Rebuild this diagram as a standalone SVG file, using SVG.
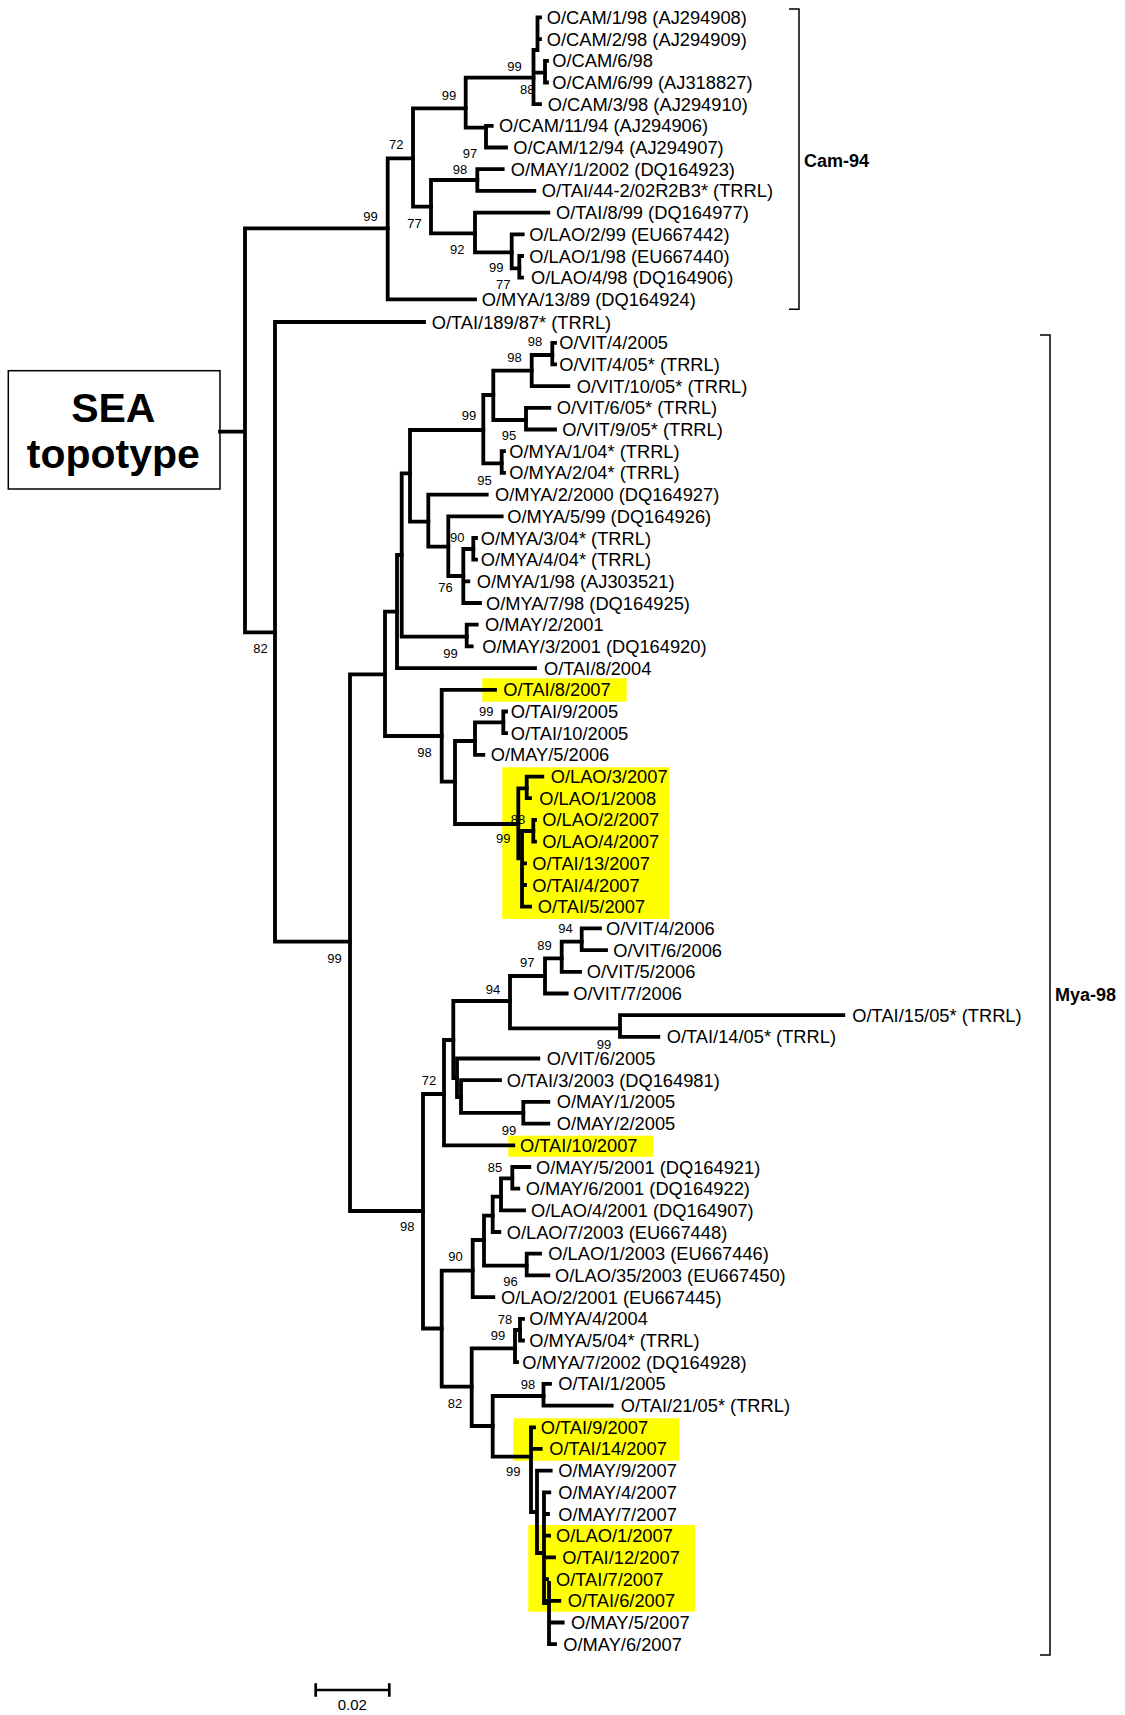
<svg xmlns="http://www.w3.org/2000/svg" width="1125" height="1715" viewBox="0 0 1125 1715">
<style>
.br{fill:none;stroke:#000;stroke-width:3.8;stroke-linecap:square}
.thin{fill:none;stroke:#000;stroke-width:1.5}
.lf{font-family:"Liberation Sans",Arial,sans-serif;font-size:18.3px;fill:#000}
.bs{font-family:"Liberation Sans",Arial,sans-serif;font-size:13px;fill:#000}
.grp{font-family:"Liberation Sans",Arial,sans-serif;font-size:18px;font-weight:bold;fill:#000}
.hl{fill:#FFFF00}
</style>
<rect width="1125" height="1715" fill="#fff"/>
<g id="highlights">
<rect class="hl" x="482.3" y="678.3" width="144.4" height="23.4"/>
<rect class="hl" x="502.3" y="767.3" width="166.7" height="151.7"/>
<rect class="hl" x="508.3" y="1135.7" width="145" height="21"/>
<rect class="hl" x="513.3" y="1418.3" width="166" height="42.4"/>
<rect class="hl" x="528.3" y="1525" width="166.7" height="86.7"/>
</g>
<g id="sea-topotype">
<rect class="thin" x="8.3" y="370.7" width="211.7" height="118.3" fill="#fff"/>
<text x="113.3" y="421.7" text-anchor="middle" font-family="Liberation Sans,Arial,sans-serif" font-size="41" font-weight="bold">SEA</text>
<text x="113.3" y="468.3" text-anchor="middle" font-family="Liberation Sans,Arial,sans-serif" font-size="41" font-weight="bold">topotype</text>
</g>
<g id="connectors">
<path class="br" d="M220 431.7H245 M245 228.3V632.3 M245 228.3H387.7 M245 632.3H275"/>
<path class="br" d="M387.7 158.3V299.4 M387.7 158.3H413 M387.7 299.4H475"/>
<path class="br" d="M413 108.3V206.7 M413 108.3H465.7 M413 206.7H431"/>
<path class="br" d="M465.7 77.7V127.7 M465.7 77.7H533.5 M465.7 127.7H486"/>
<path class="br" d="M486 125.9V147.5 M486 125.9H491.7 M486 147.5H506"/>
<path class="br" d="M533.5 50V104.2 M533.5 104.2H540 M533.5 72.7H545 M537.5 17.4V50 M533.5 50H537.5 M537.5 17.4H540 M537.5 39.1H540"/>
<path class="br" d="M545 60.8V82.5 M545 60.8H547 M545 82.5H547"/>
<path class="br" d="M431 180V233.3 M431 180H477.3 M431 233.3H475"/>
<path class="br" d="M477.3 169.2V190.9 M477.3 169.2H502.7 M477.3 190.9H534.3"/>
<path class="br" d="M475 212.6V252.3 M475 212.6H548.3 M475 252.3H511.7"/>
<path class="br" d="M511.7 234.3V268.3 M511.7 234.3H522.7 M511.7 268.3H519.3"/>
<path class="br" d="M519.3 256V277.7 M519.3 256H522 M519.3 277.7H522"/>
<path class="br" d="M275 322V941.6 M275 322H424 M275 941.6H350"/>
<path class="br" d="M350 674.3V1211 M350 674.3H385 M350 1211H423"/>
<path class="br" d="M385 611.7V736 M385 611.7H397 M385 736H441.7"/>
<path class="br" d="M397 555V668.1 M397 555H401.7 M397 668.1H535"/>
<path class="br" d="M401.7 473.3V636.7 M401.7 473.3H410 M401.7 636.7H466.7"/>
<path class="br" d="M466.7 624.7V646.4 M466.7 624.7H476.7 M466.7 646.4H471.7"/>
<path class="br" d="M410 430V521.7 M410 430H483.3 M410 521.7H428.3"/>
<path class="br" d="M483.3 395V463.3 M483.3 395H493.3 M483.3 463.3H501.7"/>
<path class="br" d="M493.3 370.7V420 M493.3 370.7H531.7 M493.3 420H526"/>
<path class="br" d="M531.7 355V386.1 M531.7 355H552.3 M531.7 386.1H568.3"/>
<path class="br" d="M552.3 342.8V364.4 M552.3 342.8H555 M552.3 364.4H555"/>
<path class="br" d="M526 407.8V429.5 M526 407.8H549.3 M526 429.5H555"/>
<path class="br" d="M501.7 451.2V472.9 M501.7 451.2H504 M501.7 472.9H504"/>
<path class="br" d="M428.3 494.6V546.7 M428.3 494.6H486.7 M428.3 546.7H448.3"/>
<path class="br" d="M448.3 516.3V576 M448.3 516.3H501.7 M448.3 576H463.3"/>
<path class="br" d="M463.3 549V603 M463.3 549H473.3 M463.3 581.3H468.3 M463.3 603H480"/>
<path class="br" d="M473.3 538V559.7 M473.3 538H476 M473.3 559.7H476"/>
<path class="br" d="M441.7 689.8V781.7 M441.7 689.8H495 M441.7 781.7H455"/>
<path class="br" d="M455 741V824 M455 741H475 M455 824H518.3"/>
<path class="br" d="M475 722.4V754.9 M475 722.4H503.3 M475 754.9H483.3"/>
<path class="br" d="M503.3 711.5V733.2 M503.3 711.5H506 M503.3 733.2H506"/>
<path class="br" d="M518.3 788.3V858.3 M518.3 788.3H526.7 M518.3 858.3H522"/>
<path class="br" d="M526.7 776.6V798.2 M526.7 776.6H542.3 M526.7 798.2H530"/>
<path class="br" d="M522 831V906.7 M522 831H533.3 M522 863.3H525 M522 885H525 M522 906.7H530"/>
<path class="br" d="M533.3 819.9V841.6 M533.3 819.9H535 M533.3 841.6H535"/>
<path class="br" d="M423 1094V1328.5 M423 1094H444 M423 1328.5H441.7"/>
<path class="br" d="M444 1040V1145.3 M444 1040H453.3 M444 1145.3H513.3"/>
<path class="br" d="M453.3 1001V1078 M453.3 1001H510 M453.3 1078H457"/>
<path class="br" d="M510 976V1028.3 M510 976H545 M510 1028.3H620"/>
<path class="br" d="M545 958.3V993.5 M545 958.3H561.7 M545 993.5H566.7"/>
<path class="br" d="M561.7 941.7V971.8 M561.7 941.7H581.7 M561.7 971.8H580"/>
<path class="br" d="M581.7 928.4V950.1 M581.7 928.4H600 M581.7 950.1H606"/>
<path class="br" d="M620 1015.1V1036.8 M620 1015.1H843.3 M620 1036.8H658.3"/>
<path class="br" d="M457 1058.5V1097 M457 1058.5H538.3 M457 1097H461"/>
<path class="br" d="M461 1080.2V1112.8 M461 1080.2H500 M461 1112.8H523.3"/>
<path class="br" d="M523.3 1101.9V1123.6 M523.3 1101.9H548.3 M523.3 1123.6H548.3"/>
<path class="br" d="M441.7 1270.7V1386.7 M441.7 1270.7H472.7 M441.7 1386.7H471.7"/>
<path class="br" d="M472.7 1240V1297.1 M472.7 1240H484 M472.7 1297.1H493.3"/>
<path class="br" d="M484 1215.7V1265.7 M484 1215.7H492.7 M484 1265.7H526.7"/>
<path class="br" d="M526.7 1253.7V1275.4 M526.7 1253.7H540 M526.7 1275.4H548.3"/>
<path class="br" d="M492.7 1196.7V1232 M492.7 1196.7H501 M492.7 1232H499.3"/>
<path class="br" d="M501 1178.3V1210.4 M501 1178.3H512.3 M501 1210.4H524"/>
<path class="br" d="M512.3 1167V1188.7 M512.3 1167H529.3 M512.3 1188.7H518.3"/>
<path class="br" d="M471.7 1348.3V1426 M471.7 1348.3H515 M471.7 1426H492.7"/>
<path class="br" d="M515 1330V1362.2 M515 1330H520 M515 1362.2H517"/>
<path class="br" d="M520 1318.8V1340.5 M520 1318.8H523 M520 1340.5H523"/>
<path class="br" d="M492.7 1396V1456.7 M492.7 1396H543.5 M492.7 1456.7H531"/>
<path class="br" d="M543.5 1383.9V1405.6 M543.5 1383.9H550 M543.5 1405.6H611.7"/>
<path class="br" d="M531 1427.3V1512 M531 1427.3H534 M531 1448.9H540.7 M531 1512H537"/>
<path class="br" d="M537 1470.6V1553 M537 1470.6H550.7 M537 1553H544"/>
<path class="br" d="M544 1492.3V1603 M544 1492.3H549.3 M544 1514H548 M544 1535.7H549 M544 1557.4H554 M544 1579.1H547 M544 1600.8H559.3 M544 1603H549"/>
<path class="br" d="M549 1583V1644.1 M549 1622.5H562.7 M549 1644.1H555"/>
</g>
<g id="leaves">
<g id="leaf-00"><text class="lf" x="546.7" y="23.9">O/CAM/1/98 (AJ294908)</text></g>
<g id="leaf-01"><text class="lf" x="546.7" y="45.6">O/CAM/2/98 (AJ294909)</text></g>
<g id="leaf-02"><text class="lf" x="552.3" y="67.3">O/CAM/6/98</text></g>
<g id="leaf-03"><text class="lf" x="552.3" y="89">O/CAM/6/99 (AJ318827)</text></g>
<g id="leaf-04"><text class="lf" x="547.7" y="110.7">O/CAM/3/98 (AJ294910)</text></g>
<g id="leaf-05"><text class="lf" x="499" y="132.4">O/CAM/11/94 (AJ294906)</text></g>
<g id="leaf-06"><text class="lf" x="513.3" y="154">O/CAM/12/94 (AJ294907)</text></g>
<g id="leaf-07"><text class="lf" x="510.7" y="175.7">O/MAY/1/2002 (DQ164923)</text></g>
<g id="leaf-08"><text class="lf" x="541.7" y="197.4">O/TAI/44-2/02R2B3* (TRRL)</text></g>
<g id="leaf-09"><text class="lf" x="556" y="219.1">O/TAI/8/99 (DQ164977)</text></g>
<g id="leaf-10"><text class="lf" x="529.3" y="240.8">O/LAO/2/99 (EU667442)</text></g>
<g id="leaf-11"><text class="lf" x="529.3" y="262.5">O/LAO/1/98 (EU667440)</text></g>
<g id="leaf-12"><text class="lf" x="531" y="284.2">O/LAO/4/98 (DQ164906)</text></g>
<g id="leaf-13"><text class="lf" x="481.7" y="305.9">O/MYA/13/89 (DQ164924)</text></g>
<g id="leaf-14"><text class="lf" x="431.7" y="328.5">O/TAI/189/87* (TRRL)</text></g>
<g id="leaf-15"><text class="lf" x="559.3" y="349.3">O/VIT/4/2005</text></g>
<g id="leaf-16"><text class="lf" x="559.3" y="370.9">O/VIT/4/05* (TRRL)</text></g>
<g id="leaf-17"><text class="lf" x="576.7" y="392.6">O/VIT/10/05* (TRRL)</text></g>
<g id="leaf-18"><text class="lf" x="556.7" y="414.3">O/VIT/6/05* (TRRL)</text></g>
<g id="leaf-19"><text class="lf" x="562.3" y="436">O/VIT/9/05* (TRRL)</text></g>
<g id="leaf-20"><text class="lf" x="509.3" y="457.7">O/MYA/1/04* (TRRL)</text></g>
<g id="leaf-21"><text class="lf" x="509.3" y="479.4">O/MYA/2/04* (TRRL)</text></g>
<g id="leaf-22"><text class="lf" x="495" y="501.1">O/MYA/2/2000 (DQ164927)</text></g>
<g id="leaf-23"><text class="lf" x="507.3" y="522.8">O/MYA/5/99 (DQ164926)</text></g>
<g id="leaf-24"><text class="lf" x="480.7" y="544.5">O/MYA/3/04* (TRRL)</text></g>
<g id="leaf-25"><text class="lf" x="480.7" y="566.2">O/MYA/4/04* (TRRL)</text></g>
<g id="leaf-26"><text class="lf" x="476.7" y="587.8">O/MYA/1/98 (AJ303521)</text></g>
<g id="leaf-27"><text class="lf" x="486" y="609.5">O/MYA/7/98 (DQ164925)</text></g>
<g id="leaf-28"><text class="lf" x="485" y="631.2">O/MAY/2/2001</text></g>
<g id="leaf-29"><text class="lf" x="482.3" y="652.9">O/MAY/3/2001 (DQ164920)</text></g>
<g id="leaf-30"><text class="lf" x="544" y="674.6">O/TAI/8/2004</text></g>
<g id="leaf-31"><text class="lf" x="503.3" y="696.3">O/TAI/8/2007</text></g>
<g id="leaf-32"><text class="lf" x="510.7" y="718">O/TAI/9/2005</text></g>
<g id="leaf-33"><text class="lf" x="510.7" y="739.7">O/TAI/10/2005</text></g>
<g id="leaf-34"><text class="lf" x="490.7" y="761.4">O/MAY/5/2006</text></g>
<g id="leaf-35"><text class="lf" x="550.7" y="783.1">O/LAO/3/2007</text></g>
<g id="leaf-36"><text class="lf" x="539.3" y="804.7">O/LAO/1/2008</text></g>
<g id="leaf-37"><text class="lf" x="542.3" y="826.4">O/LAO/2/2007</text></g>
<g id="leaf-38"><text class="lf" x="542.3" y="848.1">O/LAO/4/2007</text></g>
<g id="leaf-39"><text class="lf" x="532.3" y="869.8">O/TAI/13/2007</text></g>
<g id="leaf-40"><text class="lf" x="532.3" y="891.5">O/TAI/4/2007</text></g>
<g id="leaf-41"><text class="lf" x="537.7" y="913.2">O/TAI/5/2007</text></g>
<g id="leaf-42"><text class="lf" x="606" y="934.9">O/VIT/4/2006</text></g>
<g id="leaf-43"><text class="lf" x="613.3" y="956.6">O/VIT/6/2006</text></g>
<g id="leaf-44"><text class="lf" x="586.7" y="978.3">O/VIT/5/2006</text></g>
<g id="leaf-45"><text class="lf" x="573.3" y="1000">O/VIT/7/2006</text></g>
<g id="leaf-46"><text class="lf" x="852.3" y="1021.6">O/TAI/15/05* (TRRL)</text></g>
<g id="leaf-47"><text class="lf" x="666.7" y="1043.3">O/TAI/14/05* (TRRL)</text></g>
<g id="leaf-48"><text class="lf" x="546.7" y="1065">O/VIT/6/2005</text></g>
<g id="leaf-49"><text class="lf" x="506.7" y="1086.7">O/TAI/3/2003 (DQ164981)</text></g>
<g id="leaf-50"><text class="lf" x="556.7" y="1108.4">O/MAY/1/2005</text></g>
<g id="leaf-51"><text class="lf" x="556.7" y="1130.1">O/MAY/2/2005</text></g>
<g id="leaf-52"><text class="lf" x="520" y="1151.8">O/TAI/10/2007</text></g>
<g id="leaf-53"><text class="lf" x="536" y="1173.5">O/MAY/5/2001 (DQ164921)</text></g>
<g id="leaf-54"><text class="lf" x="525.7" y="1195.2">O/MAY/6/2001 (DQ164922)</text></g>
<g id="leaf-55"><text class="lf" x="531" y="1216.9">O/LAO/4/2001 (DQ164907)</text></g>
<g id="leaf-56"><text class="lf" x="506.7" y="1238.5">O/LAO/7/2003 (EU667448)</text></g>
<g id="leaf-57"><text class="lf" x="548.3" y="1260.2">O/LAO/1/2003 (EU667446)</text></g>
<g id="leaf-58"><text class="lf" x="555" y="1281.9">O/LAO/35/2003 (EU667450)</text></g>
<g id="leaf-59"><text class="lf" x="501" y="1303.6">O/LAO/2/2001 (EU667445)</text></g>
<g id="leaf-60"><text class="lf" x="529.3" y="1325.3">O/MYA/4/2004</text></g>
<g id="leaf-61"><text class="lf" x="529.3" y="1347">O/MYA/5/04* (TRRL)</text></g>
<g id="leaf-62"><text class="lf" x="522.3" y="1368.7">O/MYA/7/2002 (DQ164928)</text></g>
<g id="leaf-63"><text class="lf" x="558.3" y="1390.4">O/TAI/1/2005</text></g>
<g id="leaf-64"><text class="lf" x="620.7" y="1412.1">O/TAI/21/05* (TRRL)</text></g>
<g id="leaf-65"><text class="lf" x="540.7" y="1433.8">O/TAI/9/2007</text></g>
<g id="leaf-66"><text class="lf" x="549.3" y="1455.4">O/TAI/14/2007</text></g>
<g id="leaf-67"><text class="lf" x="558.3" y="1477.1">O/MAY/9/2007</text></g>
<g id="leaf-68"><text class="lf" x="558.3" y="1498.8">O/MAY/4/2007</text></g>
<g id="leaf-69"><text class="lf" x="558.3" y="1520.5">O/MAY/7/2007</text></g>
<g id="leaf-70"><text class="lf" x="556" y="1542.2">O/LAO/1/2007</text></g>
<g id="leaf-71"><text class="lf" x="562.3" y="1563.9">O/TAI/12/2007</text></g>
<g id="leaf-72"><text class="lf" x="556" y="1585.6">O/TAI/7/2007</text></g>
<g id="leaf-73"><text class="lf" x="567.7" y="1607.3">O/TAI/6/2007</text></g>
<g id="leaf-74"><text class="lf" x="571" y="1629">O/MAY/5/2007</text></g>
<g id="leaf-75"><text class="lf" x="563.3" y="1650.6">O/MAY/6/2007</text></g>
</g>
<g id="support-values">
<text class="bs" x="363.3" y="220.7">99</text>
<text class="bs" x="389" y="148.7">72</text>
<text class="bs" x="441.7" y="99.7">99</text>
<text class="bs" x="407.3" y="228">77</text>
<text class="bs" x="507.3" y="70.7">99</text>
<text class="bs" x="520" y="94">88</text>
<text class="bs" x="462.7" y="158">97</text>
<text class="bs" x="452.7" y="173.7">98</text>
<text class="bs" x="450" y="254">92</text>
<text class="bs" x="489" y="272">99</text>
<text class="bs" x="496" y="289">77</text>
<text class="bs" x="253.3" y="653">82</text>
<text class="bs" x="527.7" y="346.4">98</text>
<text class="bs" x="507.3" y="362.4">98</text>
<text class="bs" x="461.7" y="420.4">99</text>
<text class="bs" x="501.7" y="440.4">95</text>
<text class="bs" x="477.3" y="484.7">95</text>
<text class="bs" x="450" y="542">90</text>
<text class="bs" x="438.3" y="592">76</text>
<text class="bs" x="443.3" y="658">99</text>
<text class="bs" x="417.3" y="757.4">98</text>
<text class="bs" x="479" y="716.4">99</text>
<text class="bs" x="510.7" y="824">88</text>
<text class="bs" x="496" y="843">99</text>
<text class="bs" x="327.3" y="963">99</text>
<text class="bs" x="558.3" y="933">94</text>
<text class="bs" x="537.3" y="949.7">89</text>
<text class="bs" x="520" y="967.4">97</text>
<text class="bs" x="485.7" y="994">94</text>
<text class="bs" x="596.7" y="1049">99</text>
<text class="bs" x="421.7" y="1084.7">72</text>
<text class="bs" x="501.7" y="1135.4">99</text>
<text class="bs" x="487.7" y="1172.4">85</text>
<text class="bs" x="400" y="1231.4">98</text>
<text class="bs" x="448.3" y="1261.4">90</text>
<text class="bs" x="503.3" y="1286.4">96</text>
<text class="bs" x="497.7" y="1324">78</text>
<text class="bs" x="490.7" y="1339.7">99</text>
<text class="bs" x="520.7" y="1389">98</text>
<text class="bs" x="447.7" y="1408">82</text>
<text class="bs" x="506" y="1476.4">99</text>
</g>
<g id="clade-cam94">
<path class="thin" d="M789 9H799V309.3H789"/>
<text class="grp" x="804" y="166.5">Cam-94</text>
</g>
<g id="clade-mya98">
<path class="thin" d="M1040 335H1050V1655H1040"/>
<text class="grp" x="1055" y="1000.5">Mya-98</text>
</g>
<g id="scale-bar">
<path d="M315.7 1690H389.3 M315.7 1683.3V1696.7 M389.3 1683.3V1696.7" fill="none" stroke="#000" stroke-width="2.7"/>
<text x="352.3" y="1710.4" text-anchor="middle" font-family="Liberation Sans,Arial,sans-serif" font-size="15">0.02</text>
</g>
</svg>
